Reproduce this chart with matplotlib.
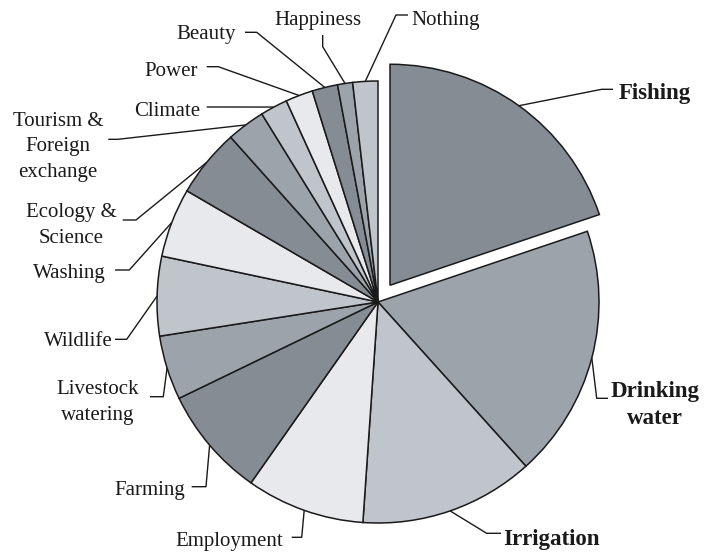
import matplotlib
matplotlib.use("Agg")
import matplotlib.pyplot as plt
import numpy as np

plt.rcParams['font.family'] = ['Liberation Serif', 'DejaVu Serif']

# data (percent of responses)
labels = ['Fishing', 'Drinking\nwater', 'Irrigation', 'Employment', 'Farming',
          'Livestock\nwatering', 'Wildlife', 'Washing', 'Ecology &\nScience',
          'Tourism &\nForeign\nexchange', 'Climate', 'Power', 'Beauty',
          'Happiness', 'Nothing']
values = [19.8, 18.5, 12.75, 8.65, 8.07, 4.7, 5.8, 5.05, 5.0, 2.8,
          2.0, 2.0, 1.87, 1.1, 1.83]
bold = [True, True, True] + [False] * 12

shades = ['#858c94', '#9ca3aa', '#c0c4cb', '#e8e9ed']
colors = [shades[i % 4] for i in range(len(values))]

# layout in pixels: text anchor, alignment, leader path (after wedge point)
W, H = 708, 553
CX, CY, R = 378, 302, 221
layout = [
    ((619, 93), 'left', [(601.7, 89.3), (613, 89.3)]),
    ((655, 405), 'center', [(596.7, 398.3), (608, 398.3)]),
    ((503, 540), 'left', [(486.7, 533.3), (501, 533.3)]),
    ((283, 541.7), 'right', [(301.7, 537.3), (291.7, 537.3)]),
    ((185, 490), 'right', [(206, 486.7), (191.7, 486.7)]),
    ((98, 402.5), 'center', [(163.3, 396.7), (150, 396.7)]),
    ((113, 341.7), 'right', [(126.7, 339.3), (115, 339.3)]),
    ((106, 273.3), 'right', [(129.3, 270), (115, 270)]),
    ((71, 225.5), 'center', [(136, 220), (122.7, 220)]),
    ((58, 147), 'center', [(118, 139.3), (108.3, 139.3)]),
    ((200, 111.7), 'right', [(215, 107), (206.7, 107)]),
    ((198, 71.7), 'right', [(218.3, 66.7), (206.7, 66.7)]),
    ((236, 35), 'right', [(256.7, 32.3), (245, 32.3)]),
    ((317.5, 20.7), 'center', [(322.7, 46.7), (322.7, 35)]),
    ((411, 20), 'left', [(396, 15), (408, 15)]),
]


def px(p):
    return ((p[0] - CX) / R, (CY - p[1]) / R)


fig = plt.figure(figsize=(W / 100, H / 100), dpi=100)
ax = fig.add_axes([0, 0, 1, 1])

explode = [20.6 / R] + [0] * (len(values) - 1)
wedges, _ = ax.pie(values, colors=colors, startangle=90, counterclock=False,
                   explode=explode, radius=1, frame=True,
                   wedgeprops=dict(edgecolor='#1a1a1a', linewidth=1.1))

for w, lab, b, (txy, ha, path) in zip(wedges, labels, bold, layout):
    tm = np.deg2rad((w.theta1 + w.theta2) / 2)
    ax_, ay_ = w.center
    start = (ax_ + w.r * np.cos(tm), ay_ + w.r * np.sin(tm))
    pts = [start] + [px(p) for p in path]
    xs, ys = zip(*pts)
    ax.plot(xs, ys, color='#1a1a1a', lw=1.0, solid_capstyle='butt')
    tx, ty = px(txy)
    ax.text(tx, ty, lab, ha=ha, va='center', multialignment='center',
            fontsize=16.5 if b else 15, fontweight='bold' if b else 'normal',
            linespacing=1.42 if b else 1.5, color='#1a1a1a')

ax.set_xlim(-CX / R, (W - CX) / R)
ax.set_ylim(-(H - CY) / R, CY / R)
ax.set_aspect('auto')
ax.axis('off')

fig.savefig('out.png', dpi=100)
